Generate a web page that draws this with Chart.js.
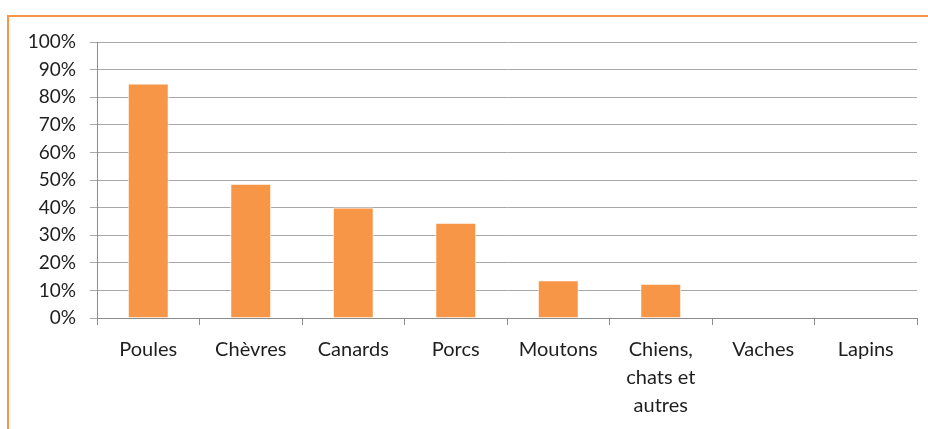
<!DOCTYPE html>
<html>
<head>
<meta charset="utf-8">
<script src="https://cdn.jsdelivr.net/npm/chart.js@4/dist/chart.umd.min.js"></script>
<style>
  html, body { margin: 0; padding: 0; background: #fff; }
  #wrap { position: relative; width: 928px; height: 429px; overflow: hidden; }
  #frame { position: absolute; left: 7px; top: 15px; right: -3px; bottom: -3px;
           border-left: 2px solid #F79646; border-top: 2px solid #F79646; }
  #chart { position: absolute; left: 0; top: 0; }
</style>
</head>
<body>
<div id="wrap">
  <div id="frame"></div>
  <canvas id="chart" width="928" height="429"></canvas>
</div>
<script>
const categories = ['Poules', 'Chèvres', 'Canards', 'Porcs', 'Moutons', ['Chiens,', 'chats et', 'autres'], 'Vaches', 'Lapins'];
const shares = [85, 48.6, 40, 34.5, 13.7, 12.4, 0, 0];
const yTicks = [0, 10, 20, 30, 40, 50, 60, 70, 80, 90, 100];

const ctx = document.getElementById('chart').getContext('2d');
new Chart(ctx, {
  type: 'bar',
  data: {
    labels: categories,
    datasets: [{
      data: shares,
      backgroundColor: '#F79646',
      borderColor: '#FFFFFF',
      borderWidth: 1,
      categoryPercentage: 1,
      barPercentage: 0.4
    }]
  },
  options: {
    responsive: false,
    animation: false,
    layout: { padding: { top: 42, right: 11, left: 0, bottom: 0 } },
    plugins: { legend: { display: false }, tooltip: { enabled: false } },
    scales: {
      x: {
        offset: true,
        grid: { offset: true, drawOnChartArea: false, color: '#8c8c8c', tickLength: 7 },
        border: { color: '#8c8c8c' },
        ticks: { color: '#1e1e1e', font: { family: 'Lato', size: 20, lineHeight: 1.4 }, padding: 11, maxRotation: 0, autoSkip: false },
        afterFit: axis => { axis.height = 111; }
      },
      y: {
        min: 0, max: 100,
        afterBuildTicks: axis => { axis.ticks = yTicks.map(v => ({ value: v })); },
        grid: { color: '#a8a8a8', tickLength: 7, lineWidth: 1 },
        border: { color: '#8c8c8c' },
        ticks: { color: '#1e1e1e', font: { family: 'Lato', size: 19 }, padding: 14, callback: v => v + '%' },
        afterFit: axis => { axis.width = 97; }
      }
    }
  }
});
</script>
</body>
</html>
